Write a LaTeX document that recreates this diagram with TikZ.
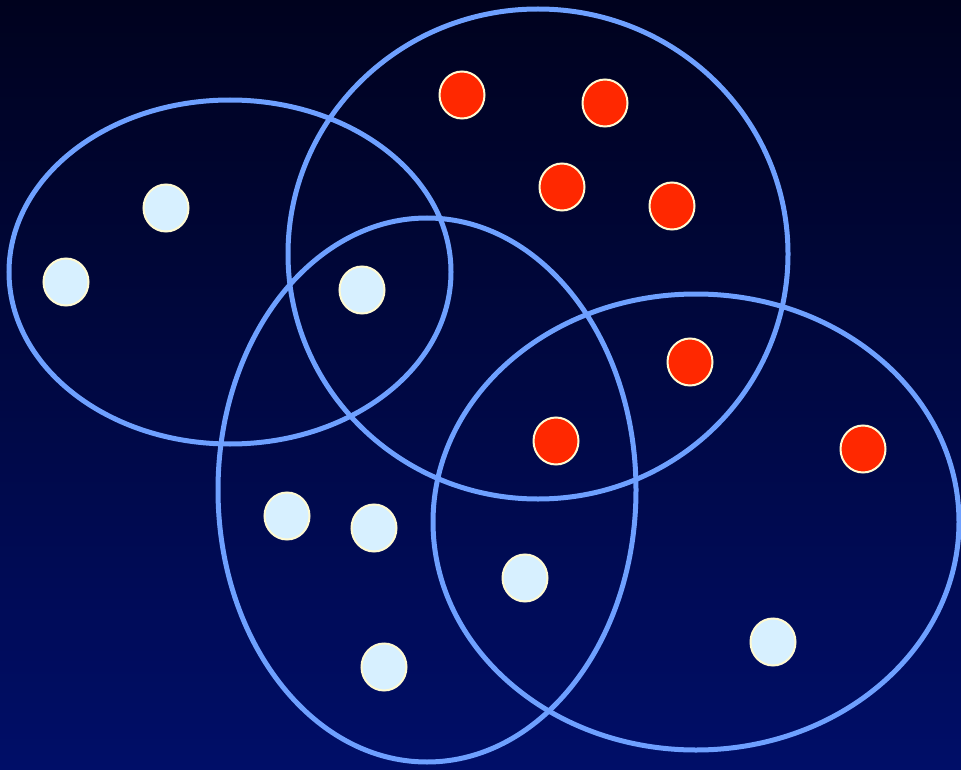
\documentclass[tikz,border=0pt]{standalone}
\usepackage{tikz}
\definecolor{ringblue}{RGB}{110,160,255}
\definecolor{dotred}{RGB}{255,40,0}
\definecolor{dotpale}{RGB}{215,240,255}
\definecolor{dotrim}{RGB}{255,250,210}
\definecolor{bgtop}{RGB}{0,2,30}
\definecolor{bgbot}{RGB}{0,14,104}
\tikzset{
  reddot/.style={ellipse,fill=dotred,draw=dotrim,line width=2pt,minimum width=45pt,minimum height=47pt,inner sep=0pt},
  paledot/.style={ellipse,fill=dotpale,draw=dotrim,line width=2pt,minimum width=45pt,minimum height=47pt,inner sep=0pt},
  ring/.style={draw=ringblue,line width=5pt}
}
\usetikzlibrary{shapes.geometric}

\begin{document}
\begin{tikzpicture}[x=1pt,y=-1pt]
  \shade[top color=bgtop,bottom color=bgbot] (0,0) rectangle (961,770);
  \useasboundingbox (0,0) rectangle (961,770);
  % clusters
  \draw[ring] (230,272) ellipse (221 and 172);
  \draw[ring] (538,254) ellipse (250 and 245);
  \draw[ring] (427,490) ellipse (209 and 272);
  \draw[ring] (696,522) ellipse (263 and 228);
  % points
  \foreach \x/\y [count=\i] in {462/95,605/103,562/187,672/206,690/362,556/441,863/449}
    \node[reddot] (r\i) at (\x,\y) {};
  \foreach \x/\y [count=\i] in {166/208,66/282,362/290,287/516,374/528,525/578,773/642,384/667}
    \node[paledot] (p\i) at (\x,\y) {};
\end{tikzpicture}
\end{document}
